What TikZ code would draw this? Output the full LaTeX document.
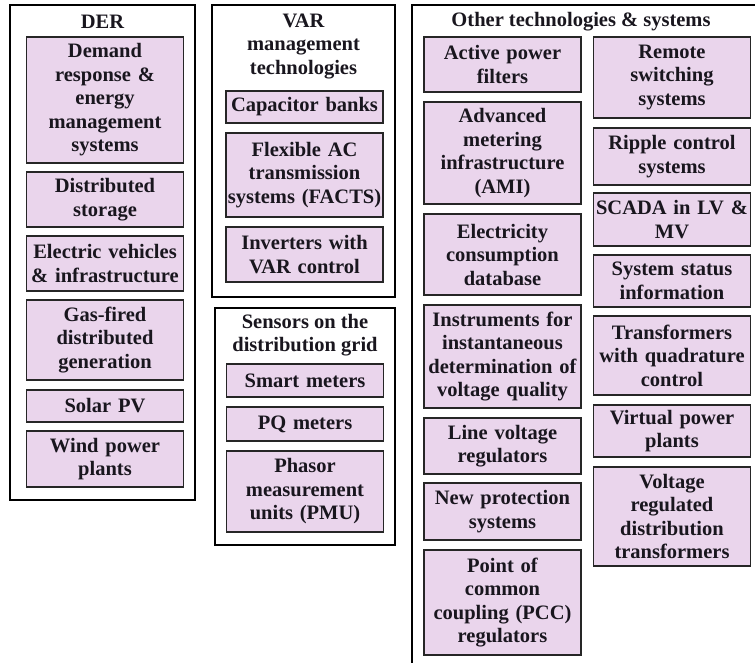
\documentclass[tikz,border=0pt]{standalone}
\usepackage{fontspec}
\setmainfont{Liberation Serif}
\definecolor{itemfill}{RGB}{234,213,236}
\definecolor{itemtext}{RGB}{25,22,30}
\newcommand{\boxfont}{\fontsize{20.5}{23.5}\selectfont\bfseries}
\tikzset{
  group/.style={draw=black, line width=1.8pt},
  title/.style={font=\boxfont, text=itemtext, align=center, inner sep=0pt},
  item/.style={draw=black!85, line width=1.3pt, fill=itemfill, font=\boxfont,
    text=itemtext, align=center, text width=155pt, inner xsep=1pt,
    inner ysep=0pt, minimum height=#1}
}
\begin{document}
\begin{tikzpicture}[x=1pt, y=-1pt]
      \useasboundingbox (0,0) rectangle (755,663);
      % DER
      \draw[group] (10,5) rectangle (195,500);
      \node[title] at (102.5, 22)  (der)   {DER};
      \node[item=126] at (105, 100)   (dem)   {Demand\\response \&\\energy\\management\\systems};
      \node[item=55]  at (105, 199.5) (stor)  {Distributed\\storage};
      \node[item=55]  at (105, 263.5) (ev)    {Electric vehicles\\\& infrastructure};
      \node[item=80]  at (105, 340)   (gas)   {Gas-fired\\distributed\\generation};
      \node[item=32]  at (105, 406)   (pv)    {Solar PV};
      \node[item=56]  at (105, 459)   (wind)  {Wind power\\plants};
      % VAR
      \draw[group] (212,5) rectangle (395,297);
      \node[title] at (303.5, 46)  (var)   {VAR\\management\\technologies};
      \node[item=32]  at (304.5, 107)   (cap)   {Capacitor banks};
      \node[item=84]  at (304.5, 175)   (facts) {Flexible AC\\transmission\\systems (FACTS)};
      \node[item=55]  at (304.5, 254.5) (inv)   {Inverters with\\VAR control};
      % sensors
      \draw[group] (215,308) rectangle (395,545);
      \node[title] at (305, 335)   (sens)  {Sensors on the\\distribution grid};
      \node[item=33]  at (305, 380.5)   (smart) {Smart meters};
      \node[item=34]  at (305, 424)     (pq)    {PQ meters};
      \node[item=81]  at (305, 491.5)   (pmu)   {Phasor\\measurement\\units (PMU)};
      % other technologies
      \draw[group] (412,5) rectangle (770,680);
      \node[title] at (581, 22)    (other) {Other technologies \& systems};
      \node[item=55]  at (502.5, 64.5)  (apf)   {Active power\\filters};
      \node[item=102] at (502.5, 153)   (ami)   {Advanced\\metering\\infrastructure\\(AMI)};
      \node[item=81]  at (502.5, 254.5) (ecd)   {Electricity\\consumption\\database};
      \node[item=103] at (502.5, 356.5) (inst)  {Instruments for\\instantaneous\\determination of\\voltage quality};
      \node[item=56]  at (502.5, 446)   (lvr)   {Line voltage\\regulators};
      \node[item=57]  at (502.5, 511.5) (nps)   {New protection\\systems};
      \node[item=105] at (502.5, 602.5) (pcc)   {Point of\\common\\coupling (PCC)\\regulators};
      \node[item=81]  at (672, 77.5)    (rss)   {Remote\\switching\\systems};
      \node[item=57]  at (672, 156.5)   (rcs)   {Ripple control\\systems};
      \node[item=53]  at (672, 219.5)   (scada) {SCADA in LV \&\\MV};
      \node[item=52]  at (672, 281)     (sss)   {System status\\information};
      \node[item=79]  at (672, 355.5)   (twq)   {Transformers\\with quadrature\\control};
      \node[item=52]  at (672, 431)     (vpp)   {Virtual power\\plants};
      \node[item=99]  at (672, 516.5)   (vrdt)  {Voltage\\regulated\\distribution\\transformers};
    \end{tikzpicture}
\end{document}
